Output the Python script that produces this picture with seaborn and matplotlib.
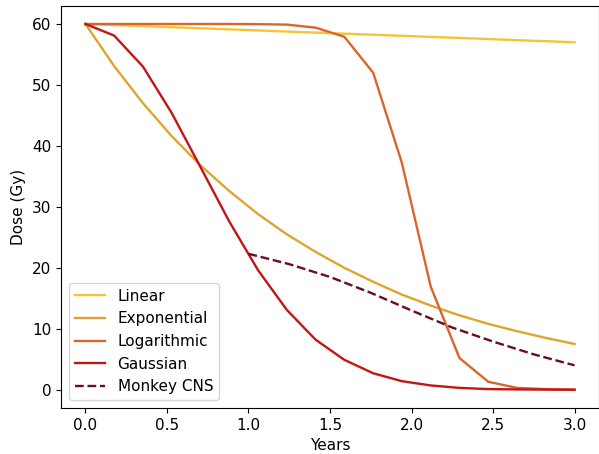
import numpy as np
import pandas as pd
import matplotlib
matplotlib.use('Agg')
import matplotlib.pyplot as plt
import seaborn as sns

plt.rcParams['font.family'] = ['DejaVu Sans']
plt.rcParams['font.size'] = 11

# time points (years)
years = [0.0, 0.176, 0.353, 0.529, 0.706, 0.882, 1.059, 1.235, 1.412,
         1.588, 1.765, 1.941, 2.118, 2.294, 2.471, 2.647, 2.824, 3.0]

linear = [60.0, 59.82, 59.65, 59.47, 59.29, 59.12, 58.94, 58.76, 58.59,
          58.41, 58.24, 58.06, 57.88, 57.71, 57.53, 57.35, 57.18, 57.0]
exponential = [60.0, 53.1, 47.0, 41.6, 36.8, 32.6, 28.8, 25.5, 22.6,
               20.0, 17.7, 15.6, 13.8, 12.2, 10.8, 9.6, 8.5, 7.5]
logarithmic = [60.0, 60.0, 60.0, 60.0, 60.0, 60.0, 59.97, 59.9, 59.4,
               57.9, 52.0, 37.2, 16.9, 5.2, 1.3, 0.3, 0.1, 0.0]
gaussian = [60.0, 58.1, 53.0, 45.4, 36.5, 27.6, 19.6, 13.1, 8.2,
            4.9, 2.7, 1.4, 0.7, 0.3, 0.1, 0.05, 0.02, 0.0]

monkey_years = [1.0, 1.25, 1.5, 1.75, 2.0, 2.25, 2.5, 2.75, 3.0]
monkey_cns = [22.3, 20.6, 18.5, 15.9, 13.0, 10.2, 7.9, 5.8, 4.0]

series = ['Linear', 'Exponential', 'Logarithmic', 'Gaussian']
colors = ['#f4c437', '#dfa42e', '#d8662a', '#c21515']
monkey_color = '#6b0c22'

fig = plt.figure(figsize=(5.99, 4.54), dpi=100)
ax = fig.add_axes([61 / 599, 1 - 408 / 454, 1 - 61 / 599, (408 - 5.7) / 454])

for name, vals, col in zip(series, [linear, exponential, logarithmic, gaussian], colors):
    sns.lineplot(x=years, y=vals, color=col, label=name, ax=ax, linewidth=1.7)

sns.lineplot(x=monkey_years, y=monkey_cns, color=monkey_color, label='Monkey CNS',
             ax=ax, linewidth=1.7, linestyle='--')

ax.set_xlim(-0.15, 3.15)
ax.set_ylim(-3, 63)
ax.set_xticks([0.0, 0.5, 1.0, 1.5, 2.0, 2.5, 3.0])
ax.set_yticks([0, 10, 20, 30, 40, 50, 60])
ax.set_xlabel('Years')
ax.set_ylabel('Dose (Gy)')
ax.legend(loc='lower left')

fig.savefig('out.png', dpi=100)
